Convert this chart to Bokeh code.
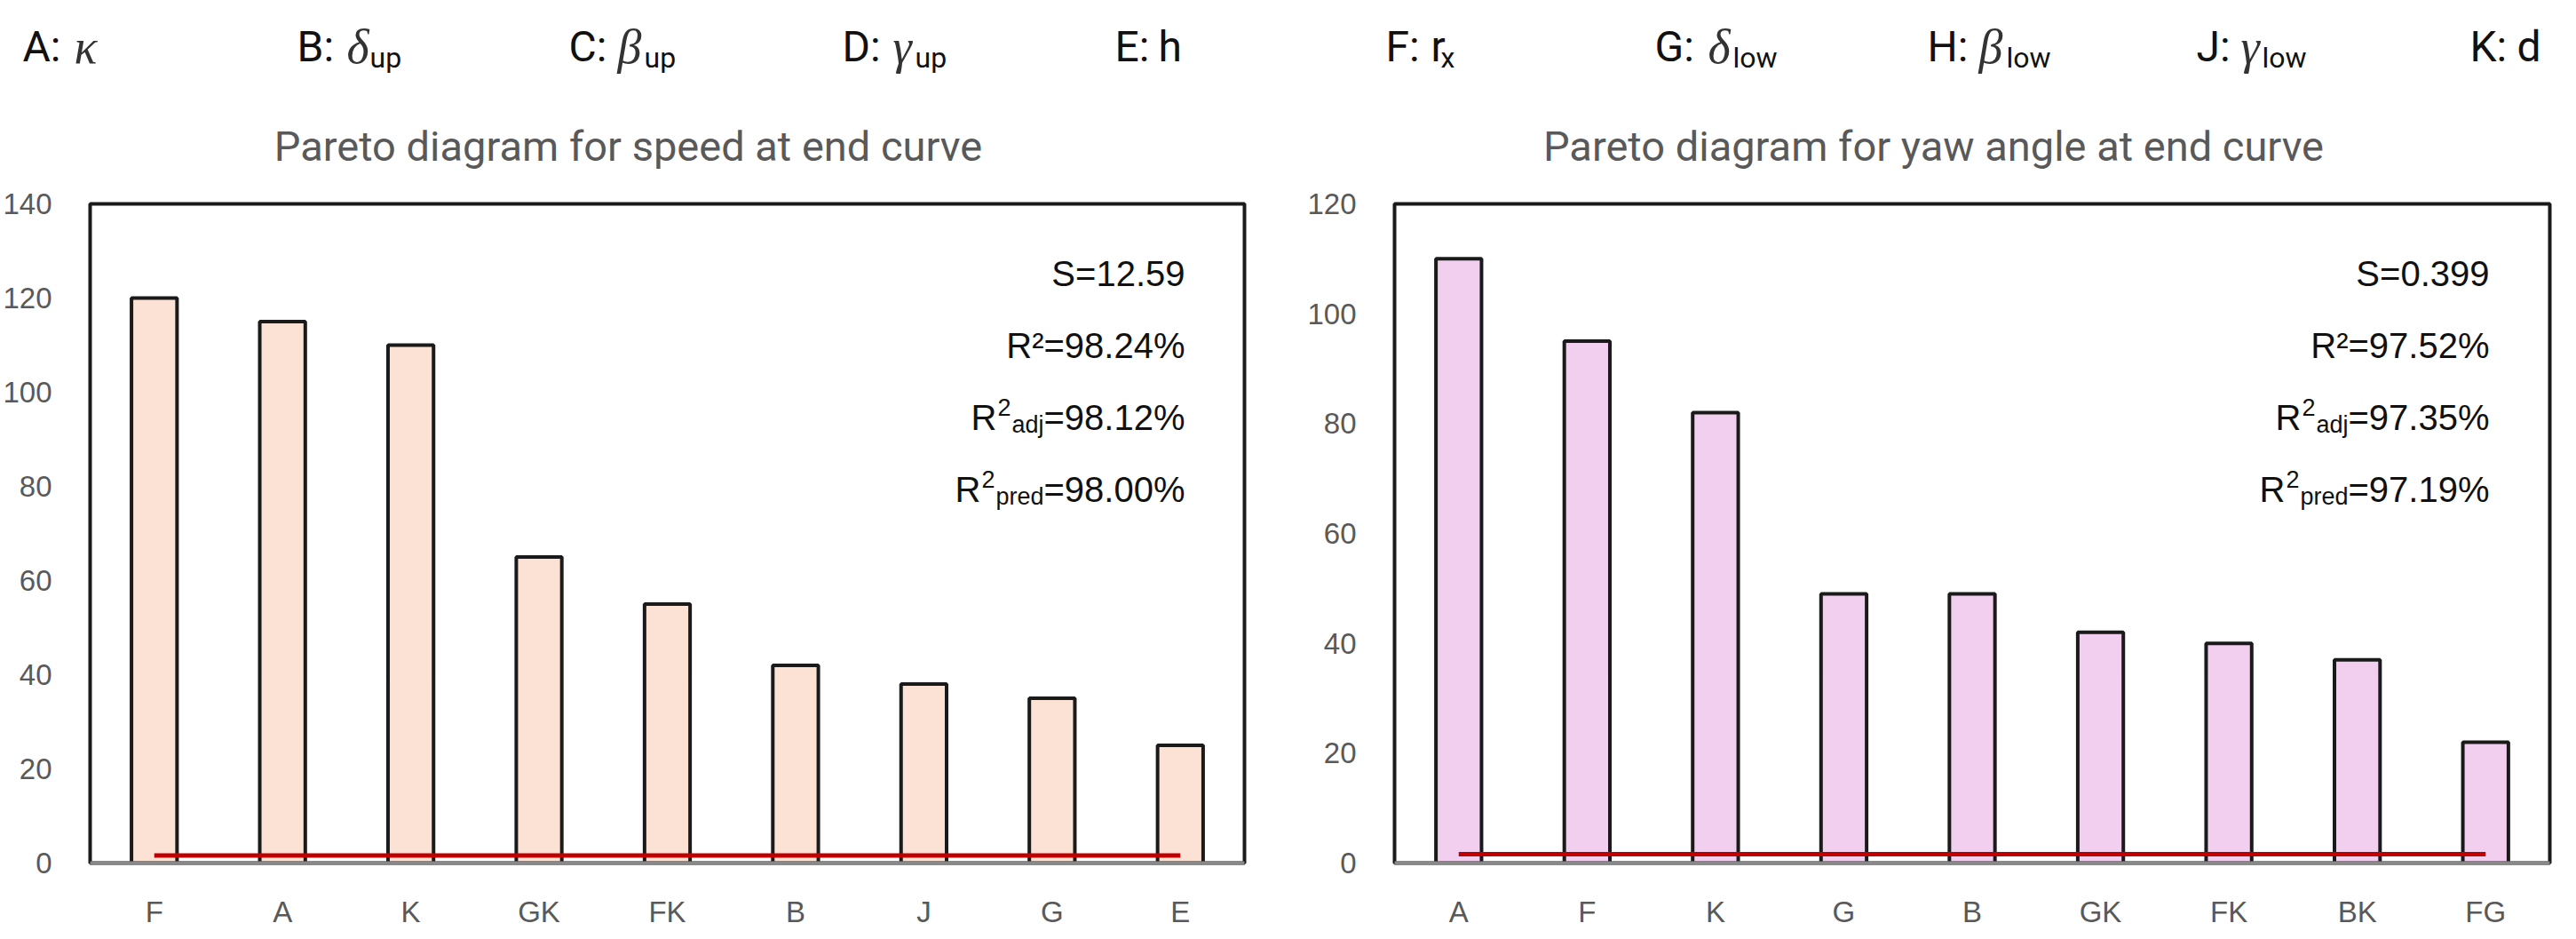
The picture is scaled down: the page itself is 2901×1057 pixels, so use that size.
from bokeh.plotting import figure
from bokeh.models import Range1d, FactorRange, Label, SingleIntervalTicker
from bokeh.layouts import column, row
from bokeh.core.properties import value
from bokeh.embed import file_html
from bokeh.resources import INLINE

# ---- data ----
speed_factors = ["F", "A", "K", "GK", "FK", "B", "J", "G", "E"]
speed_effects = [120, 115, 110, 65, 55, 42, 38, 35, 25]
speed_tcrit = 1.6
speed_stats = ["12.59", "98.24", "98.12", "98.00"]   # S, R2, R2adj, R2pred

yaw_factors = ["A", "F", "K", "G", "B", "GK", "FK", "BK", "FG"]
yaw_effects = [110, 95, 82, 49, 49, 42, 40, 37, 22]
yaw_tcrit = 1.6
yaw_stats = ["0.399", "97.52", "97.35", "97.19"]

key_letters = ["A", "B", "C", "D", "E", "F", "G", "H", "J", "K"]
key_symbols = ["κ", "δ", "β", "γ", "h", "r", "δ", "β", "γ", "d"]
key_subs = ["", "up", "up", "up", "", "x", "low", "low", "low", ""]

titles = ["Pareto diagram for speed at end curve",
          "Pareto diagram for yaw angle at end curve"]

# ---- layout (page pixels) ----
key_x = [33, 342, 648, 956, 1263, 1568, 1871, 2178, 2481, 2789]
sym_dx = [58, 56, 55, 57, 49, 51, 60, 58, 50, 53]
sub_dx = [0, 82, 85, 82, 0, 62, 88, 89, 74, 0]
GREEK = "κδβγ"

FRAME_H = 742
ARIAL = {"R": .722, "S": .667, "=": .584, ".": .278, "%": .889, "a": .556,
         "d": .556, "j": .222, "p": .556, "r": .333, "e": .556}


def tw(s, size):
    return sum(ARIAL.get(c, .556) for c in s) * size


# header strip with the factor key and both chart titles
head = figure(width=2885, height=200, x_range=Range1d(8, 2893), y_range=Range1d(208, 8),
              min_border=0, x_axis_location=None, y_axis_location=None,
              toolbar_location=None, output_backend="svg")
head.xgrid.visible = False
head.ygrid.visible = False
head.outline_line_color = None

head.text(x=key_x, y=[60] * 10, text=[l + ":" for l in key_letters],
          text_font=value("Roboto"), text_font_size="48px", text_color="#111111",
          text_baseline="alphabetic", text_align="left")
for i, s in enumerate(key_symbols):
    if s in GREEK:
        head.text(x=[key_x[i] + sym_dx[i]], y=[60], text=[s],
                  text_font=value("Liberation Serif"), text_font_style="italic",
                  text_font_size="54px", text_color="#333333",
                  text_baseline="alphabetic", text_align="left")
    else:
        head.text(x=[key_x[i] + sym_dx[i]], y=[60], text=[s],
                  text_font=value("Roboto"), text_font_size="48px", text_color="#111111",
                  text_baseline="alphabetic", text_align="left")
    if key_subs[i]:
        head.text(x=[key_x[i] + sub_dx[i]], y=[72], text=[key_subs[i]],
                  text_font=value("Roboto"), text_font_size="32px", text_color="#111111",
                  text_baseline="alphabetic", text_align="left")

head.text(x=[715, 2185], y=[172, 172], text=titles,
          text_font=value("Roboto"), text_font_size="47px", text_color="#595959",
          text_baseline="alphabetic", text_align="center")


def add_stats(p, n, frame_w, ymax, stats):
    ux = n / frame_w
    uy = ymax / FRAME_H
    xr = 1233 * ux
    base = [78, 159, 240, 321]

    def lab(x, b, txt, size):
        p.add_layout(Label(x=x, y=ymax - b * uy, text=txt, text_align="right",
                           text_baseline="alphabetic", text_font="Liberation Sans",
                           text_font_size=f"{size}px", text_color="#111111"))

    lab(xr, base[0], "S=" + stats[0], 40)
    lab(xr, base[1], "R²=" + stats[1] + "%", 40)
    for k, sub in ((2, "adj"), (3, "pred")):
        main = "=" + stats[k] + "%"
        x = xr
        lab(x, base[k], main, 40)
        x -= tw(main, 40) * ux
        lab(x, base[k] + 8, sub, 27)
        x -= (tw(sub, 27) + 1) * ux
        lab(x, base[k] - 11, "2", 27)
        x -= (tw("2", 27) + 1) * ux
        lab(x, base[k], "R", 40)


def pareto(factors, effects, ymax, tcrit, fill, stats, frame_w, left_b, right_b):
    p = figure(x_range=FactorRange(*factors), y_range=Range1d(0, ymax),
               frame_width=frame_w, frame_height=FRAME_H,
               min_border_left=left_b, min_border_right=right_b,
               min_border_top=29, min_border_bottom=5,
               toolbar_location=None, output_backend="svg")
    p.vbar(x=factors, top=effects, width=0.355, fill_color=fill,
           line_color="#1a1a1a", line_width=4)
    p.line(x=[factors[0], factors[-1]], y=[tcrit, tcrit], line_color="#c00000", line_width=5)

    p.xgrid.visible = False
    p.ygrid.visible = False
    p.outline_line_color = "#1a1a1a"
    p.outline_line_width = 4
    p.outline_line_alpha = 1

    p.yaxis.ticker = SingleIntervalTicker(interval=20, num_minor_ticks=0)
    p.yaxis.axis_line_color = None
    p.yaxis.major_label_standoff = 37
    p.xaxis.axis_line_color = "#898989"
    p.xaxis.axis_line_width = 4
    p.xaxis.major_label_standoff = 30
    for ax in (p.xaxis, p.yaxis):
        ax.major_tick_line_color = None
        ax.minor_tick_line_color = None
        ax.major_label_text_font = "Liberation Sans"
        ax.major_label_text_font_size = "33px"
        ax.major_label_text_color = "#595959"

    add_stats(p, len(factors), frame_w, ymax, stats)
    return p


p1 = pareto(speed_factors, speed_effects, 140, speed_tcrit, "#fbe2d5", speed_stats, 1300, 97, 40)
p2 = pareto(yaw_factors, yaw_effects, 120, yaw_tcrit, "#f2ceef", yaw_stats, 1301, 129, 10)

layout = column(head, row(p1, p2))
open("out.html", "w").write(file_html(layout, INLINE))
